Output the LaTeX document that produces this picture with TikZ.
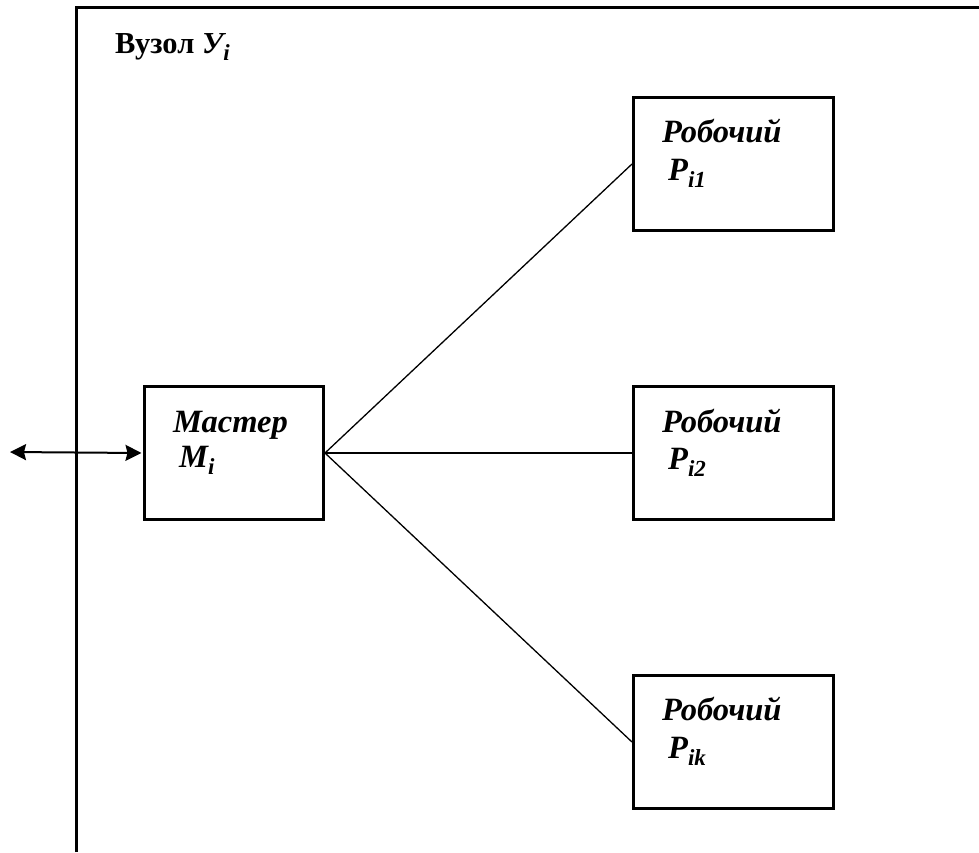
\documentclass[tikz,border=0pt]{standalone}
\usepackage{fontspec}
\setmainfont{Liberation Serif}
\usetikzlibrary{arrows.meta}
% lowered, smaller index after a symbol
\newcommand{\idx}[1]{\raisebox{-7pt}{\fontsize{23}{23}\selectfont #1}}
\tikzset{
  unit/.style={draw, line width=3pt, inner sep=0pt, anchor=north west},
  lbl/.style={anchor=base west, inner sep=0pt, font=\fontsize{32.5}{38}\selectfont\bfseries\itshape},
  link/.style={line width=1.3pt},
  frame/.style={line width=3pt},
  twoway/.style={line width=2pt},
}
\begin{document}
\begin{tikzpicture}[x=1pt, y=-1pt]
\useasboundingbox (0,0) rectangle (979,852);

% node border: only the top and left edges
\coordinate (fbl) at (76.5,852);
\coordinate (ftl) at (76.5,7);
\coordinate (ftr) at (979,7);
\draw[frame] (fbl) -- (ftl) -- (ftr);
\node[anchor=base west, inner sep=0pt, font=\fontsize{30.5}{36}\selectfont\bfseries] (title) at (115,53) {Вузол \textit{У\idx{i}}};

% master and workers
\node[unit, minimum width=179pt, minimum height=133pt] (m) at (143,385) {};
\node[unit, minimum width=200pt, minimum height=133pt] (w1) at (632,96) {};
\node[unit, minimum width=200pt, minimum height=133pt] (w2) at (632,385) {};
\node[unit, minimum width=200pt, minimum height=133pt] (wk) at (632,674) {};

\node[lbl] (mt) at ([shift={(30,47)}]m.north west) {Мастер};
\node[lbl] (ms) at ([shift={(36,82)}]m.north west) {M\idx{i}};
\node[lbl] (w1t) at ([shift={(30,46)}]w1.north west) {Робочий};
\node[lbl] (w1s) at ([shift={(36,84)}]w1.north west) {Р\idx{i1}};
\node[lbl] (w2t) at ([shift={(30,47)}]w2.north west) {Робочий};
\node[lbl] (w2s) at ([shift={(36,84)}]w2.north west) {Р\idx{i2}};
\node[lbl] (wkt) at ([shift={(30,46)}]wk.north west) {Робочий};
\node[lbl] (wks) at ([shift={(36,84)}]wk.north west) {Р\idx{ik}};

% links from the master to each worker
\draw[link] (m.east) -- (w1.west);
\draw[link] (m.east) -- (w2.west);
\draw[link] (m.east) -- (wk.west);

% external two-way link into the master
\coordinate (ext) at (10,452);
\draw[twoway, {Stealth[length=16pt,width=16pt,inset=2pt]}-{Stealth[length=16pt,width=16pt,inset=2pt]}] (ext) -- ([xshift=-1.5pt]m.west);
\end{tikzpicture}
\end{document}
